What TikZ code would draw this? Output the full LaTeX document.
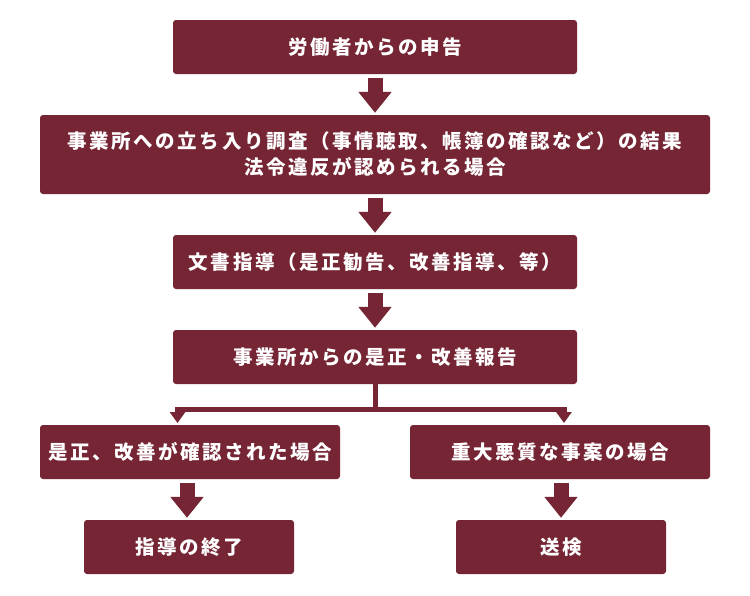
\documentclass[tikz,border=0pt]{standalone}
\usepackage{fontspec}
\newfontfamily\jp{Noto Sans CJK JP}[LetterSpace=13]
\usetikzlibrary{arrows.meta}
\definecolor{maroon}{RGB}{117,37,52}
\tikzset{
  box/.style={fill=maroon, rounded corners=3pt, text=white, inner sep=0pt,
    minimum height=54pt, align=center, font=\jp\bfseries\fontsize{19.5}{26}\selectfont},
  blockarrow/.style={draw=maroon, line width=15pt,
    -{Triangle[width=32pt,length=21pt]}, shorten <=4pt, shorten >=2pt},
  branch/.style={draw=maroon, line width=5pt,
    -{Triangle[width=15pt,length=11pt]}}
}
\begin{document}
\begin{tikzpicture}[x=1pt,y=-1pt]
\useasboundingbox (0,0) rectangle (750,595);
\fill[white] (0,0) rectangle (750,595);
\node[box, minimum width=404pt] (b1) at (375,47) {労働者からの申告};
\node[box, minimum width=670pt, minimum height=79pt] (b2) at (375,154.5)
  {事業所への立ち入り調査（事情聴取、帳簿の確認など）の結果\\法令違反が認められる場合};
\node[box, minimum width=404pt] (b3) at (375,262) {文書指導（是正勧告、改善指導、等）};
\node[box, minimum width=404pt] (b4) at (375,357) {事業所からの是正・改善報告};
\node[box, minimum width=300pt] (b5) at (190,452) {是正、改善が確認された場合};
\node[box, minimum width=300pt] (b6) at (560,452) {重大悪質な事案の場合};
\node[box, minimum width=210pt] (b7) at (189,547) {指導の終了};
\node[box, minimum width=210pt] (b8) at (561,547) {送検};
\coordinate (jL) at (177.5,423);
\coordinate (jR) at (564,423);
\draw[blockarrow] (b1.south) -- (b2.north);
\draw[blockarrow] (b2.south) -- (b3.north);
\draw[blockarrow] (b3.south) -- (b4.north);
\draw[blockarrow] ([xshift=-3pt]b5.south) -- ([xshift=-2pt]b7.north);
\draw[blockarrow] ([xshift=1pt]b6.south) -- (b8.north);
\draw[branch] (b4.south) -- ++(0,25.5) -| (jL);
\draw[branch] (b4.south) -- ++(0,25.5) -| (jR);
\end{tikzpicture}
\end{document}
